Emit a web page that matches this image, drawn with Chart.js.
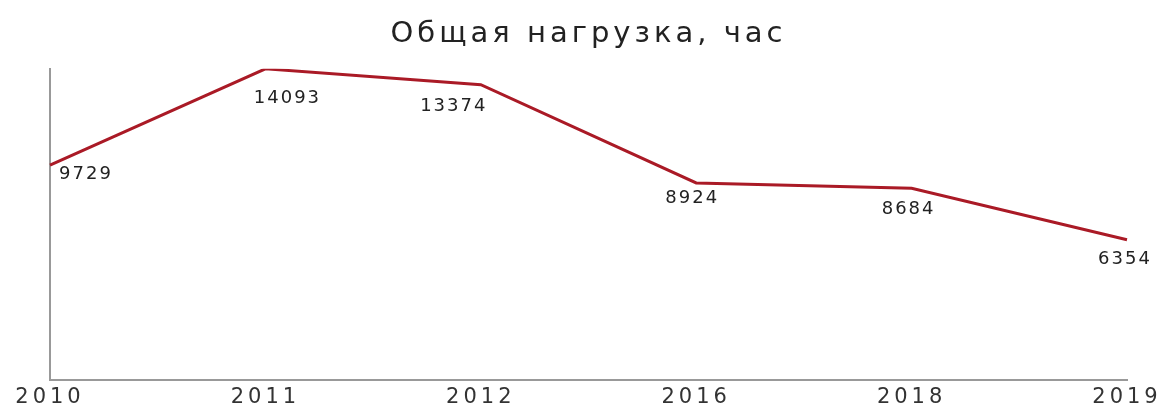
<!DOCTYPE html>
<html>
<head>
<meta charset="utf-8">
<script src="https://cdn.jsdelivr.net/npm/chart.js@4/dist/chart.umd.min.js"></script>
<style>
  html, body { margin: 0; padding: 0; background: #fff; }
  #wrap { width: 1163px; height: 410px; }
</style>
</head>
<body>
<div id="wrap"><canvas id="chart"></canvas></div>
<script>
const years = ['2010', '2011', '2012', '2016', '2018', '2019']
const hours = [9729, 14093, 13374, 8924, 8684, 6354]

// label offsets under each point (dx, dy)
const labelShift = [[36, 9], [22, 30], [-27, 22], [-4, 15], [-3, 21], [-2, 20]]

// the reference text is drawn wide, letter spacing gets close to it
const wideText = {
    id: 'wideText',
    beforeDraw(chart) {
        chart.ctx.letterSpacing = '4px'
    }
}

const pointLabels = {
    id: 'pointLabels',
    afterDatasetsDraw(chart) {
        const ctx = chart.ctx
        const meta = chart.getDatasetMeta(0)
        ctx.save()
        ctx.letterSpacing = '2px'
        ctx.font = '18px "DejaVu Sans"'
        ctx.fillStyle = '#222'
        ctx.textAlign = 'center'
        ctx.textBaseline = 'middle'
        meta.data.forEach((pt, i) => {
            const s = labelShift[i]
            ctx.fillText(String(hours[i]), pt.x + s[0], pt.y + s[1])
        })
        ctx.restore()
    }
}

const lineChart = new Chart(
    document.getElementById('chart').getContext('2d'), {
    type: 'line',
    data: {
        labels: years,
        datasets: [{
            data: hours,
            borderColor: '#aa1a26',
            borderWidth: 3,
            pointRadius: 0,
            tension: 0,
            fill: false
        }]
    },
    options: {
        responsive: true,
        maintainAspectRatio: false,
        animation: false,
        layout: { padding: { left: 50, right: 36, bottom: -5 } },
        plugins: {
            legend: { display: false },
            tooltip: { enabled: false },
            title: {
                display: true,
                text: 'Общая нагрузка, час',
                color: '#222',
                font: { family: '"DejaVu Sans", sans-serif', size: 29, weight: 'normal' },
                padding: { top: 17, bottom: 17 }
            }
        },
        scales: {
            x: {
                offset: false,
                grid: { display: false, drawTicks: false },
                border: { color: '#999', width: 2 },
                ticks: {
                    color: '#333',
                    padding: 7,
                    maxRotation: 0,
                    font: { family: '"DejaVu Sans", sans-serif', size: 21, lineHeight: 1 }
                }
            },
            y: {
                min: 0,
                max: Math.max(...hours),
                grid: { display: false, drawTicks: false },
                border: { color: '#999', width: 2 },
                ticks: { display: false }
            }
        }
    },
    plugins: [wideText, pointLabels]
});
</script>
</body>
</html>
